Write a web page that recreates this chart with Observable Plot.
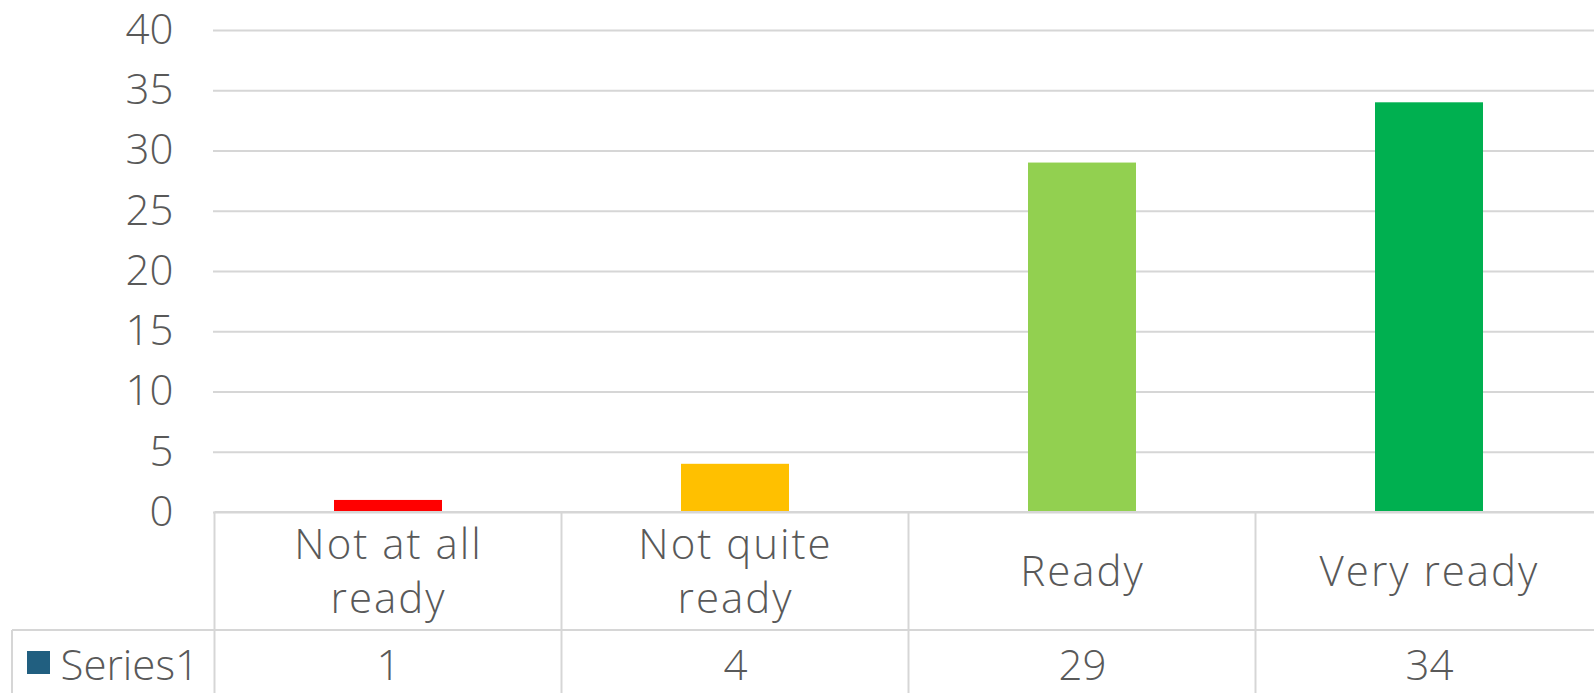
<!DOCTYPE html>
<html>
<head>
<meta charset="utf-8">
<script src="https://cdn.jsdelivr.net/npm/d3@7"></script>
<script src="https://cdn.jsdelivr.net/npm/@observablehq/plot@0.6"></script>
<style>
  html, body { margin: 0; padding: 0; background: #ffffff; }
  #chart svg { display: block; }
  .catlabel text { letter-spacing: 2px; }
</style>
</head>
<body>
<div id="chart"></div>
<script>
// ---- data ----
const categories = ["Not at all\nready", "Not quite\nready", "Ready", "Very ready"];
const values = [1, 4, 29, 34];
const barColors = ["#FF0000", "#FFC000", "#92D050", "#00B050"];
const yTicks = [0, 5, 10, 15, 20, 25, 30, 35, 40];
const seriesName = "Series1";
const seriesColor = "#215F80";

const data = categories.map((c, i) => ({cat: c, value: values[i]}));

const W = 1594, H = 693;
const plotLeft = 213, plotTop = 30, zeroY = 512;
const gridColor = "#D6D6D6";
const textColor = "#595959";
const font = "'Open Sans', 'Noto Sans', sans-serif";

// table borders drawn from the x band scale
function tableMark(index, scales) {
  const x = scales.x;
  const bw = typeof x.bandwidth === "function" ? x.bandwidth() : 0;
  const centers = categories.map(c => x(c) + bw / 2);
  const step = centers[1] - centers[0];
  const bounds = [centers[0] - step / 2, ...centers.map(c => c + step / 2)];
  const y0 = scales.y(0);
  const rowDiv = y0 + 118;
  const g = d3.create("svg:g").attr("stroke", gridColor).attr("stroke-width", 2).attr("fill", "none");
  g.append("line").attr("x1", bounds[0]).attr("x2", bounds[bounds.length - 1]).attr("y1", y0).attr("y2", y0);
  for (const b of bounds) {
    g.append("line").attr("x1", b).attr("x2", b).attr("y1", y0).attr("y2", H + 10);
  }
  g.append("line").attr("x1", 12).attr("x2", bounds[bounds.length - 1]).attr("y1", rowDiv).attr("y2", rowDiv);
  g.append("line").attr("x1", 12).attr("x2", 12).attr("y1", rowDiv).attr("y2", H + 10);
  g.append("rect").attr("x", 27).attr("y", 651).attr("width", 23).attr("height", 23)
    .attr("fill", seriesColor).attr("stroke", "none");
  return g.node();
}

const chart = Plot.plot({
  width: W,
  height: H,
  marginLeft: plotLeft,
  marginRight: 0,
  marginTop: plotTop,
  marginBottom: H - zeroY,
  style: {fontFamily: font, fontSize: "42px", color: textColor, background: "#ffffff", overflow: "visible"},
  x: {type: "band", domain: categories, range: [plotLeft, 1604], paddingInner: 0.69, paddingOuter: 0.345, axis: null},
  y: {domain: [0, 40], axis: null},
  color: {domain: categories, range: barColors},
  marks: [
    Plot.gridY(yTicks, {stroke: gridColor, strokeOpacity: 1, strokeWidth: 2}),
    Plot.axisY(yTicks, {tickSize: 0, tickPadding: 40, label: null, fontSize: 42, fill: textColor, fontWeight: 300}),
    Plot.barY(data, {x: "cat", y: "value", fill: "cat"}),
    tableMark,
    Plot.text(data, {x: "cat", y: () => 0, text: "cat", dy: 56, lineAnchor: "middle", lineHeight: 1.3,
      fontSize: 42, fill: textColor, fontWeight: 300, className: "catlabel"}),
    Plot.text(data, {x: "cat", y: () => 0, text: d => String(d.value), dy: 154, lineAnchor: "middle",
      fontSize: 42, fill: textColor, fontWeight: 300}),
    Plot.text([seriesName], {frameAnchor: "bottom-left", text: d => d, dx: 60 - plotLeft, dy: 154,
      textAnchor: "start", lineAnchor: "middle", fontSize: 42, fill: textColor, fontWeight: 300})
  ]
});

document.getElementById("chart").appendChild(chart);
</script>
</body>
</html>
